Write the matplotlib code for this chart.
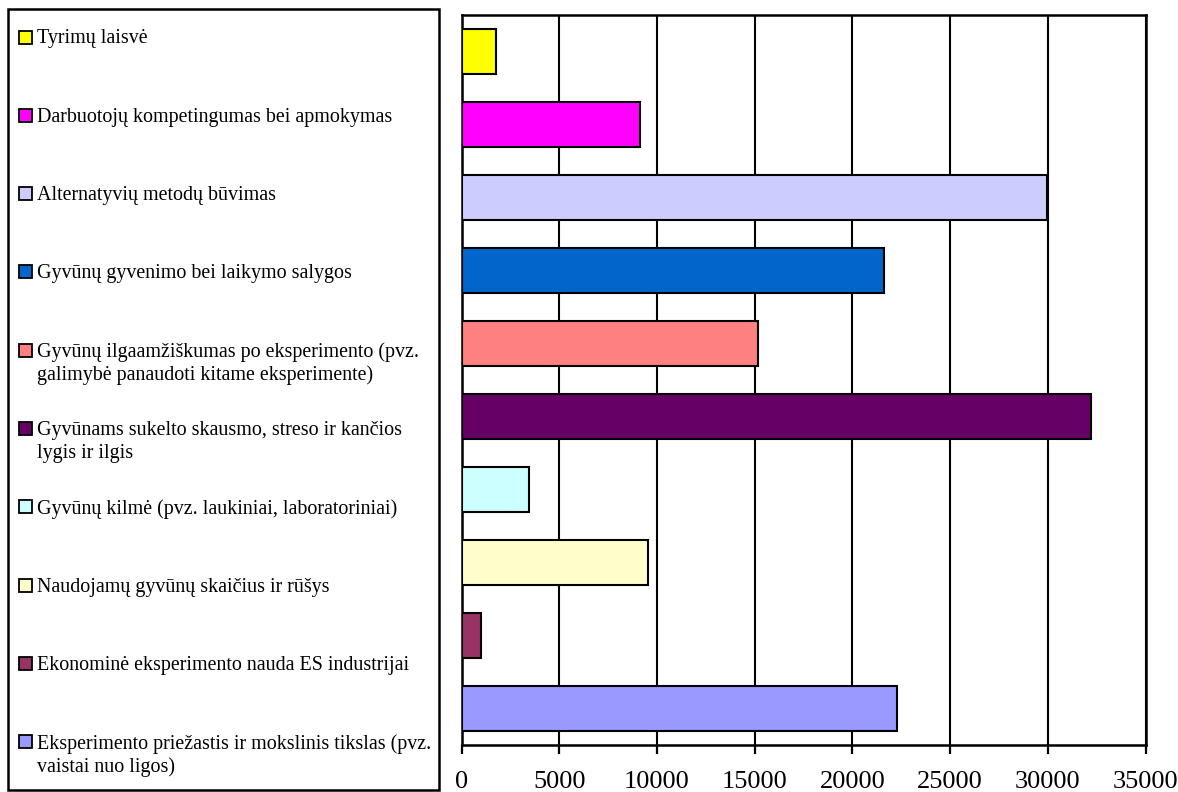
import matplotlib
matplotlib.use('Agg')
import matplotlib.pyplot as plt
from matplotlib.patches import Rectangle

# data, bottom bar first
categories = [
    'Eksperimento priežastis ir mokslinis tikslas (pvz.\nvaistai nuo ligos)',
    'Ekonominė eksperimento nauda ES industrijai',
    'Naudojamų gyvūnų skaičius ir rūšys',
    'Gyvūnų kilmė (pvz. laukiniai, laboratoriniai)',
    'Gyvūnams sukelto skausmo, streso ir kančios\nlygis ir ilgis',
    'Gyvūnų ilgaamžiškumas po eksperimento (pvz.\ngalimybė panaudoti kitame eksperimente)',
    'Gyvūnų gyvenimo bei laikymo salygos',
    'Alternatyvių metodų būvimas',
    'Darbuotojų kompetingumas bei apmokymas',
    'Tyrimų laisvė',
]
values = [22300, 1000, 9550, 3450, 32200, 15150, 21600, 29950, 9130, 1750]
colors = ['#9999FF', '#993366', '#FFFFCC', '#CCFFFF', '#660066',
          '#FF8080', '#0066CC', '#CCCCFF', '#FF00FF', '#FFFF00']
xticks = [0, 5000, 10000, 15000, 20000, 25000, 30000, 35000]

plt.rcParams['font.family'] = ['Liberation Serif', 'DejaVu Serif']

W, H = 1178, 792
fig = plt.figure(figsize=(W / 100, H / 100), dpi=100)

ax = fig.add_axes([461.5 / W, 1 - 745 / H, (1145.7 - 461.5) / W, (745 - 15) / H])
ypos = list(range(len(categories)))
ax.barh(ypos, values, height=0.62, color=colors, edgecolor='black', linewidth=1.5, zorder=3)
ax.set_xlim(0, 35000)
ax.set_ylim(-0.5, len(categories) - 0.5)
ax.set_yticks([])
ax.set_xticks(xticks)
ax.set_xticklabels([str(t) for t in xticks], fontsize=19)
ax.tick_params(axis='x', direction='out', length=6.5, width=1.6, pad=12)
ax.grid(axis='x', color='black', linewidth=1.5, zorder=1)
for s in ax.spines.values():
    s.set_linewidth(1.8)
    s.set_color('black')

# legend box on the left
lax = fig.add_axes([0, 0, 1, 1])
lax.set_xlim(0, W)
lax.set_ylim(H, 0)
lax.axis('off')
lax.add_patch(Rectangle((8, 9), 431, 781, fill=False, edgecolor='black', linewidth=1.8))
entry_y = 37
step = 78.3
for i in range(len(categories) - 1, -1, -1):
    lax.add_patch(Rectangle((18.5, entry_y - 6.5), 13, 13, facecolor=colors[i],
                            edgecolor='black', linewidth=1.3))
    for j, line in enumerate(categories[i].split('\n')):
        lax.text(37, entry_y + 2 + j * 23, line, fontsize=14.4, va='center', ha='left')
    entry_y += step

fig.savefig('out.png', dpi=100)
